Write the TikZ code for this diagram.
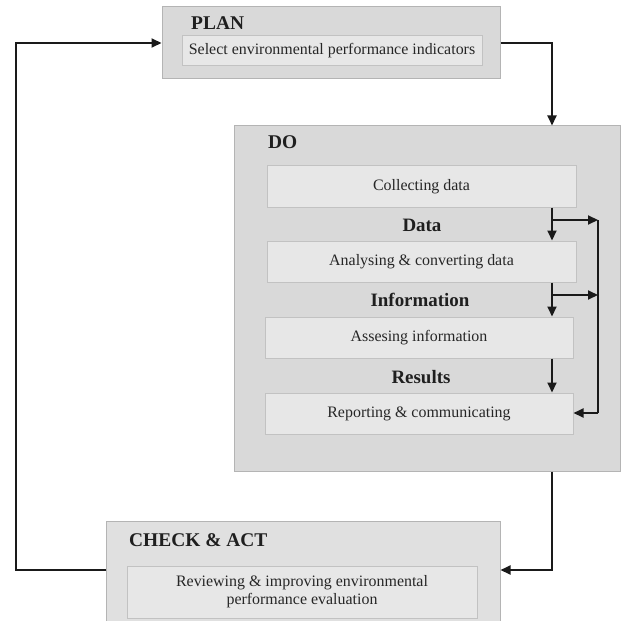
\documentclass[tikz,border=0pt]{standalone}
\usepackage{fontspec}
\setmainfont{Liberation Serif}
\usetikzlibrary{arrows.meta}
\definecolor{outerfill}{HTML}{D9D9D9}
\definecolor{outerline}{HTML}{B4B4B4}
\definecolor{innerfill}{HTML}{E7E7E7}
\definecolor{innerline}{HTML}{C2C2C2}
\definecolor{checkfill}{HTML}{E0E0E0}
\definecolor{arr}{HTML}{1A1A1A}
\begin{document}
\begin{tikzpicture}[x=1bp,y=-1bp,
  outerbox/.style={draw=outerline,fill=outerfill,line width=1bp,rectangle,inner sep=0},
  innerbox/.style={draw=innerline,fill=innerfill,line width=1bp,rectangle,inner sep=0,
    font=\fontsize{16}{18}\selectfont,text=black!85,align=center},
  title/.style={font=\fontsize{19.5}{21}\selectfont\bfseries,text=black!88,inner sep=0},
  midlabel/.style={font=\fontsize{19}{21}\selectfont\bfseries,text=black!88,inner sep=0},
  flow/.style={draw=arr,line width=2bp,-{Triangle[length=10bp,width=9bp]}},
  line/.style={draw=arr,line width=2bp}]
\clip (0,0) rectangle (621,621);
\fill[white] (0,0) rectangle (621,621);
% PLAN
\node[outerbox,minimum width=338bp,minimum height=72bp] (plan) at (331,43) {};
\node[title,anchor=west] (plant) at (191,23) {PLAN};
\node[innerbox,minimum width=300bp,minimum height=30bp] (sel) at (332,51) {Select environmental performance indicators};
% DO
\node[outerbox,minimum width=386bp,minimum height=345bp] (do) at (427,298.5) {};
\node[title,anchor=west] (dot) at (268,142) {DO};
\node[innerbox,minimum width=309bp,minimum height=41bp] (col) at (421.5,186.5) {Collecting data};
\node[innerbox,minimum width=309bp,minimum height=41bp] (ana) at (421.5,261.5) {Analysing \& converting data};
\node[innerbox,minimum width=308bp,minimum height=41bp] (ass) at (419,337.5) {Assesing information};
\node[innerbox,minimum width=308bp,minimum height=41bp] (rep) at (419,413.5) {Reporting \& communicating};
\node[midlabel] (data) at (422,225) {Data};
\node[midlabel] (info) at (420,300) {Information};
\node[midlabel] (res) at (421,377) {Results};
% CHECK & ACT
\node[outerbox,minimum width=393bp,minimum height=120bp,fill=checkfill] (check) at (303.5,581) {};
\node[title,anchor=west] (checkt) at (129,540) {CHECK \& ACT};
\node[innerbox,minimum width=350bp,minimum height=52bp] (rev) at (302,592) {Reviewing \& improving environmental\\performance evaluation};
% coordinates
\coordinate (xa) at (552,0);
\coordinate (xr) at (598,0);
\coordinate (yl) at (0,570);
\coordinate (xl) at (16,0);
\coordinate (b1) at (552,220);
\coordinate (b2) at (552,295);
\coordinate (rj) at (598,413);
% connectors
\draw[flow] (plan.east) -| (do.north -| xa);
\draw[flow] (do.south -| xa) |- (check.east |- yl);
\draw[flow] (check.west |- yl) -| (xl |- plan.west) -- (plan.west);
\draw[flow] (col.south -| xa) -- (ana.north -| xa);
\draw[flow] (ana.south -| xa) -- (ass.north -| xa);
\draw[flow] (ass.south -| xa) -- (rep.north -| xa);
\draw[flow] (b1) -- (b1 -| xr);
\draw[flow] (b2) -- (b2 -| xr);
\draw[line] (b1 -| xr) -- (rj);
\draw[flow] (rj) -- (rep.east |- rj);
\end{tikzpicture}
\end{document}
